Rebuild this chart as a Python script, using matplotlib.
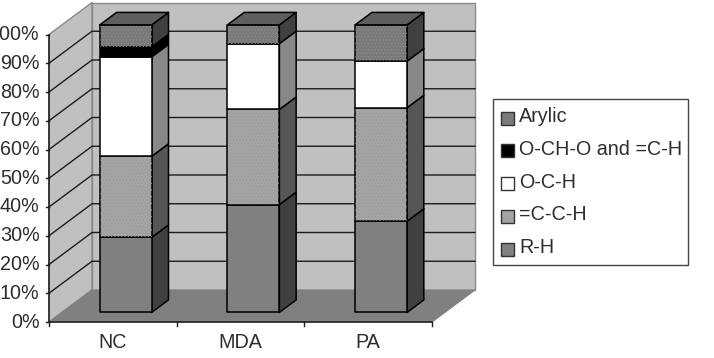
import matplotlib
matplotlib.use("Agg")
from matplotlib import pyplot as plt
from matplotlib.patches import Polygon, Rectangle

plt.rcParams['font.family'] = ['Liberation Sans', 'DejaVu Sans']
plt.rcParams['hatch.linewidth'] = 0.3

groups = ['NC', 'MDA', 'PA']
series = ['R-H', '=C-C-H', 'O-C-H', 'O-CH-O and =C-H', 'Arylic']
rh = [26.1, 37.5, 31.7]
cch = [28.2, 33.1, 39.5]
och = [34.6, 22.9, 16.2]
och_o = [3.5, 0.0, 0.0]
arylic = [7.6, 6.5, 12.6]
values = [rh, cch, och, och_o, arylic]
pct_ticks = list(range(0, 101, 10))

front_col = ['#808080', '#a4a4a4', '#ffffff', '#000000', '#7a7a7a']
side_col = ['#404040', '#565656', '#888888', '#000000', '#404040']
top_col = '#5e5e5e'
dotted = [False, True, False, False, True]
text_col = '#2e2e2e'
label_size = 14.2

# oblique projection: category position, percent, depth (0 front, 1 back)
X0, Y0 = 49.0, 322.0
CAT_W = 127.67
PCT_H = 2.875
DX, DY = 43.0, 32.0
BAR_W = 0.407
BAR_D0, BAR_D1 = 0.30, 0.69


def proj(c, v, d):
    return X0 + c * CAT_W + d * DX, Y0 - v * PCT_H - d * DY


fig = plt.figure(figsize=(7.14, 3.58), dpi=100)
ax = fig.add_axes([0, 0, 1, 1])
ax.set_xlim(0, 714)
ax.set_ylim(358, 0)
ax.axis('off')


def poly(pts, fc, ec='black', lw=1.1, z=2, hatch=False):
    ax.add_patch(Polygon(pts, closed=True, fc=fc, ec=ec, lw=lw, zorder=z, joinstyle='round'))
    if hatch:
        ax.add_patch(Polygon(pts, closed=True, fc='none', ec='#959595', lw=0, hatch='.....', zorder=z))


# walls and floor
n = len(groups)
wall_ec = '#8a8a8a'
poly([proj(0, 0, 0), proj(0, 0, 1), proj(0, 100, 1), proj(0, 100, 0)], '#c0c0c0', wall_ec, 1.0, 1)
poly([proj(0, 0, 1), proj(n, 0, 1), proj(n, 100, 1), proj(0, 100, 1)], '#c0c0c0', wall_ec, 1.0, 1)
poly([proj(0, 0, 0), proj(n, 0, 0), proj(n, 0, 1), proj(0, 0, 1)], '#808080', '#808080', 0.8, 1)

# gridlines along side and back wall
for p in pct_ticks[1:-1]:
    xs, ys = zip(proj(0, p, 0), proj(0, p, 1), proj(n, p, 1))
    ax.plot(xs, ys, color='#1c1c1c', lw=1.0, zorder=1.5)

# stacked columns
for c in range(n):
    left, right = c + 0.5 - BAR_W / 2, c + 0.5 + BAR_W / 2
    base = 0.0
    for s in range(len(series)):
        v = values[s][c]
        if v == 0:
            continue
        tip = base + v
        poly([proj(right, base, BAR_D0), proj(right, base, BAR_D1),
              proj(right, tip, BAR_D1), proj(right, tip, BAR_D0)], side_col[s])
        poly([proj(left, base, BAR_D0), proj(right, base, BAR_D0),
              proj(right, tip, BAR_D0), proj(left, tip, BAR_D0)], front_col[s], hatch=dotted[s])
        base = tip
    poly([proj(left, base, BAR_D0), proj(right, base, BAR_D0),
          proj(right, base, BAR_D1), proj(left, base, BAR_D1)], top_col)

# front axes, ticks and labels
ax.plot(*zip(proj(0, 100, 0), proj(0, 0, 0), proj(n, 0, 0)), color='#1c1c1c', lw=1.1, zorder=3)
for p in pct_ticks:
    x, y = proj(0, p, 0)
    ax.plot([x - 3.5, x], [y, y], color='#1c1c1c', lw=1.0, zorder=3)
    ax.text(x - 9.5, y, f'{p}%', ha='right', va='center', fontsize=label_size, color=text_col)
for c in range(n + 1):
    x, y = proj(c, 0, 0)
    ax.plot([x, x], [y, y + 4], color='#1c1c1c', lw=1.0, zorder=3)
for c, name in enumerate(groups):
    x, y = proj(c + 0.5, 0, 0)
    ax.text(x, y + 21, name, ha='center', va='center', fontsize=label_size, color=text_col)

# legend box, top entry is the last series
ax.add_patch(Rectangle((493, 99), 195, 166, fc='white', ec='#444444', lw=1.0, zorder=4))
for i, s in enumerate(reversed(range(len(series)))):
    yc = 118 + i * 32.8
    ax.add_patch(Rectangle((501, yc - 6.5), 13, 13, fc=front_col[s], ec='#333333', lw=1.0, zorder=5))
    ax.text(519, yc - 1.5, series[s], ha='left', va='center', fontsize=label_size, color=text_col, zorder=5)

fig.savefig('out.png', dpi=100)
